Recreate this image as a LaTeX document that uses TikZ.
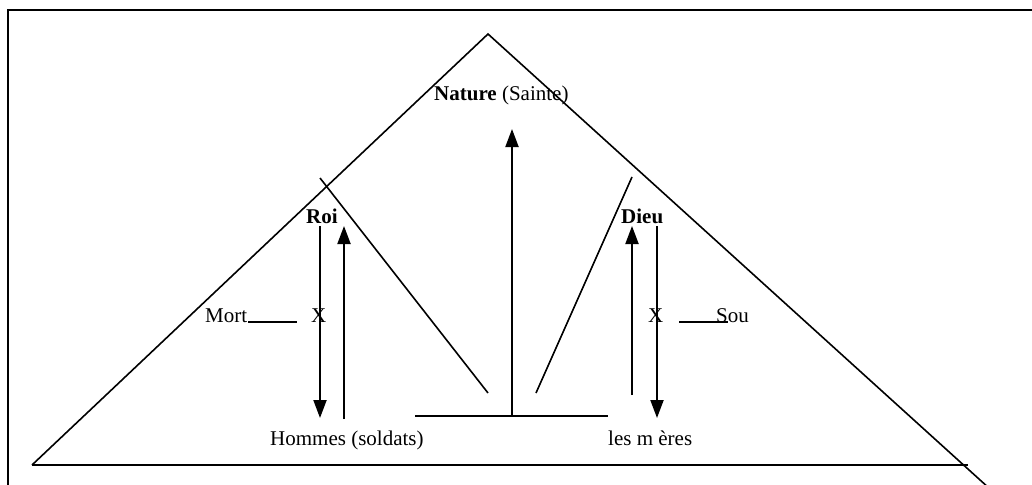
\documentclass[tikz,border=0pt]{standalone}
\usepackage{fontspec}
\setmainfont{Liberation Serif}
\usetikzlibrary{arrows.meta}
\tikzset{
  thin line/.style={line width=1.6pt},
  arrow line/.style={line width=2pt, -{Triangle[length=18pt,width=13pt]}},
  thick line/.style={line width=2.6pt},
  lbl/.style={inner sep=0pt, anchor=base west, font=\fontsize{21}{25}\selectfont},
}
\begin{document}
\begin{tikzpicture}[x=1pt,y=-1pt]
\useasboundingbox (0,0) rectangle (1032,484);
% frame
\draw[line width=2.4pt] (8,500) -- (8,10) -- (1040,10);
% big triangle
\coordinate (apex) at (488,34);
\coordinate (bl) at (32,465);
\coordinate (br) at (968,465);
\coordinate (brx) at (990,489);
\draw[thin line] (bl) -- (apex) -- (brx);
\draw[thick line] (bl) -- (br);
% inner slanted lines
\coordinate (l1) at (320,178);
\coordinate (l2) at (488,393);
\coordinate (r1) at (632,177);
\coordinate (r2) at (536,393);
\draw[thin line] (l1) -- (l2);
\draw[thin line] (r1) -- (r2);
% central base and arrow
\coordinate (hb1) at (415,416);
\coordinate (hb2) at (608,416);
\coordinate (cb) at (512,416);
\coordinate (ct) at (512,129);
\draw[thick line] (hb1) -- (hb2);
\draw[arrow line] (cb) -- (ct);
% labels
\node[lbl] (nature) at (434,101) {\textbf{Nature} (Sainte)};
\node[lbl] (roi) at (306,223) {\textbf{Roi}};
\node[lbl] (dieu) at (621,223) {\textbf{Dieu}};
\node[lbl] (mort) at (205,322) {Mort};
\node[lbl] (xl) at (311,322) {X};
\node[lbl] (xr) at (648,322) {X};
\node[lbl] (sou) at (716,322) {Sou};
\node[lbl] (hommes) at (270,445) {Hommes (soldats)};
\node[lbl] (meres) at (608,445) {les m ères};
% left arrows
\coordinate (la1) at (320,226);
\coordinate (la2) at (320,418);
\coordinate (lb1) at (344,419);
\coordinate (lb2) at (344,226);
\draw[arrow line] (la1) -- (la2);
\draw[arrow line] (lb1) -- (lb2);
% right arrows
\coordinate (ra1) at (632,395);
\coordinate (ra2) at (632,226);
\coordinate (rb1) at (657,226);
\coordinate (rb2) at (657,418);
\draw[arrow line] (ra1) -- (ra2);
\draw[arrow line] (rb1) -- (rb2);
% short lines
\coordinate (ml1) at (248,322);
\coordinate (ml2) at (297,322);
\coordinate (sl1) at (679,322);
\coordinate (sl2) at (728,322);
\draw[thick line] (ml1) -- (ml2);
\draw[thick line] (sl1) -- (sl2);
\end{tikzpicture}
\end{document}
